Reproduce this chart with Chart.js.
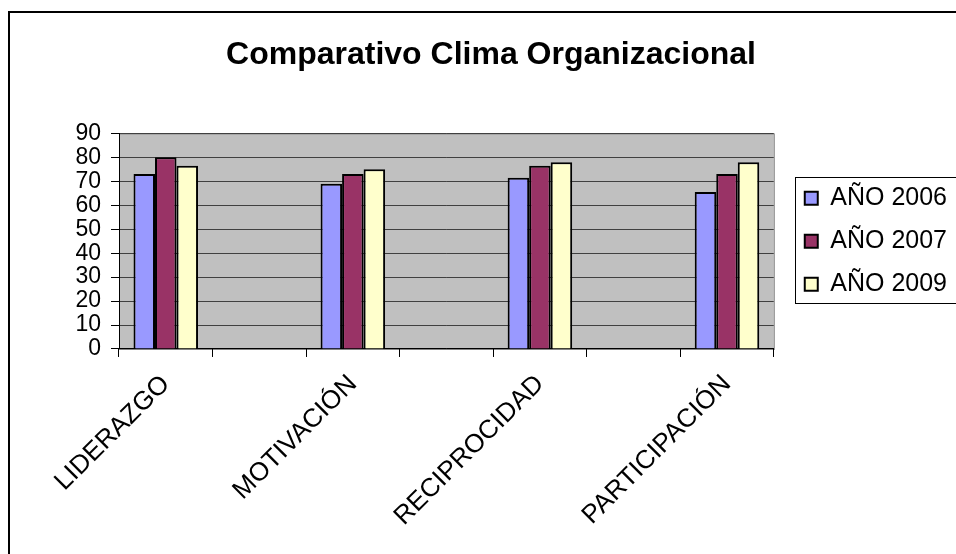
<!DOCTYPE html>
<html>
<head>
<meta charset="utf-8">
<script src="https://cdn.jsdelivr.net/npm/chart.js@4"></script>
<style>
  html, body { margin: 0; padding: 0; background: #fff; overflow: hidden; }
  #wrap { position: relative; width: 956px; height: 554px; }
</style>
</head>
<body>
<div id="wrap"><canvas id="clima"></canvas></div>
<script>
// categories (blank slots give the gaps between groups)
const categorias = ["LIDERAZGO", "", "MOTIVACIÓN", "", "RECIPROCIDAD", "", "PARTICIPACIÓN"];
const anio2006 = [73, null, 69, null, 71.5, null, 65.5];
const anio2007 = [80, null, 73, null, 76.5, null, 73];
const anio2009 = [76.5, null, 75, null, 78, null, 78];
const yTicks = [0, 10, 20, 30, 40, 50, 60, 70, 80, 90];

const FONT = "Arial, 'Liberation Sans', sans-serif";
const LEGEND_SHIFT = 13;

// grey plot area, outer frame and the legend box
const excelLook = {
    id: 'excelLook',
    afterLayout(chart) {
        // legend sits a bit right of the plot area and is centred on it
        let lg = chart.legend, a = chart.chartArea;
        lg.left += LEGEND_SHIFT;
        lg.right += LEGEND_SHIFT;
        lg.top = a.top;
        lg.bottom = a.bottom;
        lg.height = a.bottom - a.top;
    },
    beforeDraw(chart) {
        let ctx = chart.ctx, a = chart.chartArea;
        ctx.save();
        ctx.fillStyle = '#C0C0C0';
        ctx.fillRect(a.left, a.top, a.right - a.left, a.bottom - a.top);
        ctx.strokeStyle = '#808080';
        ctx.lineWidth = 1;
        ctx.strokeRect(a.left + 0.5, a.top + 0.5, a.right - a.left, a.bottom - a.top);
        ctx.restore();
    },
    afterDraw(chart) {
        let ctx = chart.ctx, a = chart.chartArea, lg = chart.legend;
        ctx.save();
        ctx.strokeStyle = '#000';
        ctx.lineWidth = 2;
        ctx.beginPath();
        ctx.moveTo(9, 600); ctx.lineTo(9, 12); ctx.lineTo(1000, 12);
        ctx.stroke();
        let mid = (a.top + a.bottom) / 2;
        ctx.lineWidth = 1;
        ctx.strokeRect(Math.round(lg.left + 8) + 0.5, Math.round(mid - 64) + 0.5, 400, 126);
        ctx.restore();
    }
};

let ctx = document.getElementById('clima').getContext('2d');
new Chart(ctx, {
    type: 'bar',
    data: {
        labels: categorias,
        datasets: [
            { label: 'AÑO 2006', data: anio2006, backgroundColor: '#9999FF', borderColor: '#000', borderWidth: 2 },
            { label: 'AÑO 2007', data: anio2007, backgroundColor: '#993366', borderColor: '#000', borderWidth: 2 },
            { label: 'AÑO 2009', data: anio2009, backgroundColor: '#FFFFCC', borderColor: '#000', borderWidth: 2 }
        ]
    },
    options: {
        responsive: true,
        maintainAspectRatio: false,
        animation: false,
        categoryPercentage: 0.69,
        barPercentage: 1,
        layout: { padding: { left: 38, right: 12, top: 0, bottom: 10 } },
        plugins: {
            title: {
                display: true,
                text: 'Comparativo Clima Organizacional',
                color: '#000',
                font: { family: FONT, size: 32, weight: 'bold' },
                padding: { top: 36, bottom: 59 }
            },
            legend: {
                display: true,
                position: 'right',
                labels: {
                    color: '#000',
                    font: { family: FONT, size: 25 },
                    boxWidth: 13,
                    boxHeight: 13,
                    padding: 18
                }
            },
            tooltip: { enabled: false }
        },
        scales: {
            x: {
                offset: true,
                grid: {
                    offset: true,
                    drawOnChartArea: false,
                    tickLength: 8,
                    tickColor: '#000'
                },
                border: { display: true, color: '#000', width: 1 },
                ticks: {
                    autoSkip: false,
                    minRotation: 45,
                    maxRotation: 45,
                    padding: 12,
                    color: '#000',
                    font: { family: FONT, size: 26 }
                }
            },
            y: {
                min: 0,
                max: 90,
                afterBuildTicks: axis => { axis.ticks = yTicks.map(v => ({ value: v })); },
                afterFit: axis => { axis.width = 81; },
                grid: {
                    color: '#404040',
                    lineWidth: 1,
                    tickLength: 8,
                    tickColor: '#000'
                },
                border: { display: true, color: '#000', width: 1 },
                ticks: {
                    autoSkip: false,
                    padding: 10,
                    color: '#000',
                    font: { family: FONT, size: 23 }
                }
            }
        }
    },
    plugins: [excelLook]
});
</script>
</body>
</html>
